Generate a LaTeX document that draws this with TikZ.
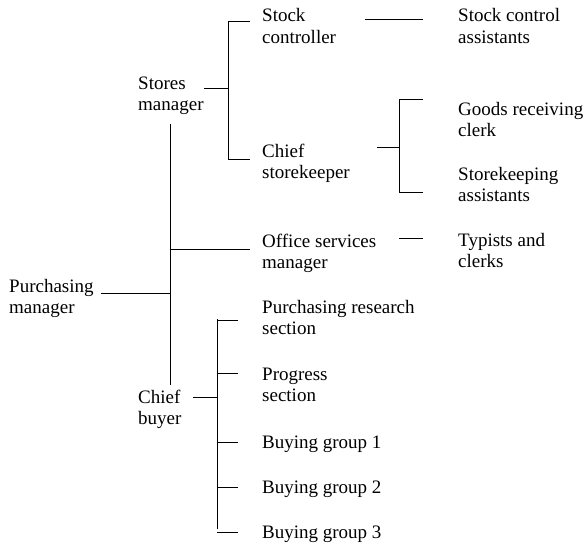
\documentclass[tikz,border=0pt]{standalone}
\usepackage{fontspec}
\setmainfont{Liberation Serif}
\begin{document}
\begin{tikzpicture}[x=1pt,y=-1pt,
  lbl/.style={anchor=base west,inner sep=0pt,align=left,font=\fontsize{19}{21.7}\selectfont},
  conn/.style={draw,line width=1pt}]
\useasboundingbox (0,0) rectangle (584,543);
% labels (anchor at baseline of last line)
\node[lbl] (pm) at (9,313.7) {Purchasing\\manager};
\node[lbl] (sm) at (138,110.7) {Stores\\manager};
\node[lbl] (cb) at (138,424.7) {Chief\\buyer};
\node[lbl] (sc) at (262,43.7) {Stock\\controller};
\node[lbl] (cs) at (262,178.7) {Chief\\storekeeper};
\node[lbl] (os) at (262,268.7) {Office services\\manager};
\node[lbl] (prs) at (262,334.7) {Purchasing research\\section};
\node[lbl] (ps) at (262,401.7) {Progress\\section};
\node[lbl] (bg1) at (262,448) {Buying group 1};
\node[lbl] (bg2) at (262,493) {Buying group 2};
\node[lbl] (bg3) at (262,538) {Buying group 3};
\node[lbl] (sca) at (458,43.7) {Stock control\\assistants};
\node[lbl] (grc) at (458,136.7) {Goods receiving\\clerk};
\node[lbl] (ska) at (458,201.7) {Storekeeping\\assistants};
\node[lbl] (tc) at (458,267.7) {Typists and\\clerks};
% joints
\coordinate (pmL) at (101,293);
\coordinate (mainT) at (170,124);
\coordinate (mainB) at (170,385);
\coordinate (smL) at (204,89);
\coordinate (smT) at (228,22);
\coordinate (smB) at (228,160);
\coordinate (csL) at (377,147);
\coordinate (csT) at (399,100);
\coordinate (csB) at (399,192);
\coordinate (cbL) at (193,397);
\coordinate (cbT) at (217,319);
\coordinate (cbB) at (217,529);
% connectors
\draw[conn] (pmL) -- (mainT |- pmL);
\draw[conn] (mainT) -- (mainB);
\draw[conn] (mainT |- 0,249) -- (250,249) coordinate (osL);
\draw[conn] (smL) -- (smT |- smL);
\draw[conn] (smT) -- (smB);
\draw[conn] (smT) -- (250,22);
\draw[conn] (smT |- 0,159) -- (250,159);
\draw[conn] (365,20) -- (423,20);
\draw[conn] (csL) -- (csT |- csL);
\draw[conn] (csT) -- (csB);
\draw[conn] (csT) -- (423,100);
\draw[conn] (csB) -- (423,192);
\draw[conn] (399,238) -- (423,238);
\draw[conn] (cbL) -- (cbT |- cbL);
\draw[conn] (cbT) -- (cbB);
\foreach \yy in {320,373,442,487,532} \draw[conn] (cbT |- 0,\yy) -- (238,\yy);
\end{tikzpicture}
\end{document}
